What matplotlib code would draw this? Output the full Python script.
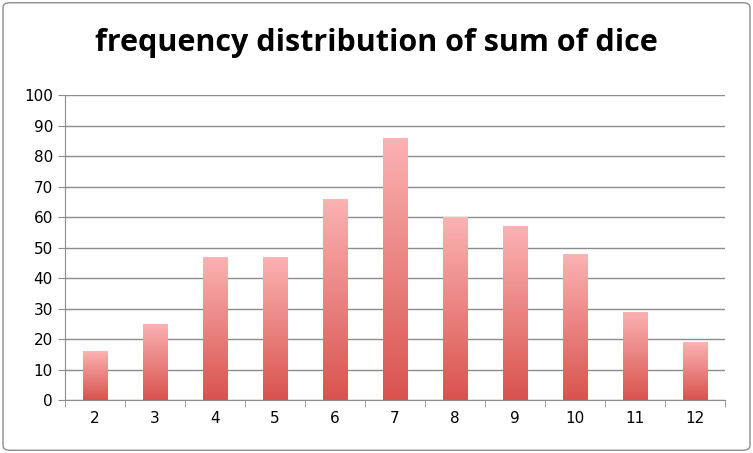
import matplotlib
matplotlib.use('agg')
from matplotlib import pyplot as plt
from matplotlib.patches import FancyBboxPatch
import numpy as np

sums = [2, 3, 4, 5, 6, 7, 8, 9, 10, 11, 12]
counts = [16, 25, 47, 47, 66, 86, 60, 57, 48, 29, 19]

fig = plt.figure(figsize=(7.53, 4.53), dpi=100)
ax = fig.add_axes([0.086, 0.117, 0.877, 0.673])

# grey frame around the whole chart
fig.patches.append(FancyBboxPatch((0.004, 0.006), 0.992, 0.988, boxstyle="round,pad=0,rounding_size=0.01",
                                  transform=fig.transFigure, fill=False, edgecolor='#8c8c8c', lw=1))

x = np.arange(len(sums))
bars = ax.bar(x, counts, width=0.4, color='none', edgecolor='none', zorder=3)

grad = np.linspace(0, 1, 256).reshape(-1, 1)
cmap = matplotlib.colors.LinearSegmentedColormap.from_list('g', ['#d9534e', '#fbb3b3'])
for b in bars:
    x0, w, h = b.get_x(), b.get_width(), b.get_height()
    im = ax.imshow(grad, extent=[x0, x0 + w, 0, h], origin='lower', cmap=cmap, aspect='auto', zorder=3)
    im.set_clip_path(b)

ax.set_xlim(-0.5, len(sums) - 0.5)
ax.set_ylim(0, 100)
ax.set_yticks(range(0, 101, 10))
ax.set_xticks(x)
ax.set_xticklabels([str(s) for s in sums])
ax.yaxis.grid(True, color='#8c8c8c', lw=1, zorder=0)
ax.set_axisbelow(True)
for s in ['top', 'right']:
    ax.spines[s].set_visible(False)
for s in ['left', 'bottom']:
    ax.spines[s].set_color('#8c8c8c')
ax.tick_params(axis='y', length=5, color='#8c8c8c', labelsize=11)
ax.tick_params(axis='x', length=5, color='#8c8c8c', labelsize=11, direction='out')
ax.set_xticks(np.arange(-0.5, len(sums)), minor=True)
ax.tick_params(axis='x', which='major', length=0, pad=8)
ax.tick_params(axis='x', which='minor', length=5, color='#8c8c8c')

fig.text(0.5, 0.905, 'frequency distribution of sum of dice', ha='center', va='center',
         fontsize=22, fontweight='bold', family='Open Sans')

fig.savefig('out.png', dpi=100)
